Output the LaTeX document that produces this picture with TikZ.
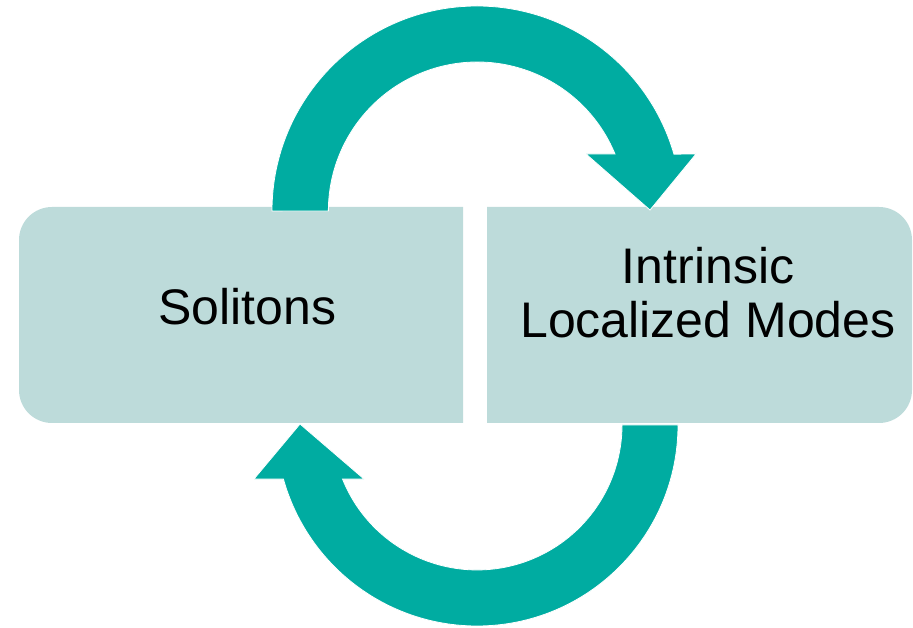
\documentclass[tikz,border=0pt]{standalone}
\usepackage{fontspec}
\setmainfont{Liberation Sans}
\begin{document}
\definecolor{boxfill}{HTML}{BDDBDA}
\definecolor{arrowteal}{HTML}{00ACA1}
\begin{tikzpicture}[x=1pt,y=1pt,
  panel/.style={fill=boxfill},
  blockarrow/.style={fill=arrowteal,draw=white,line width=0.8pt,line join=miter},
  label/.style={inner sep=0pt,font=\fontsize{50}{54}\selectfont,text=black}]
\useasboundingbox (0,0) rectangle (913,627);

% left panel: rounded on the left side only
\path[panel] (463,204) -- (52,204) arc[start angle=270,end angle=180,radius=33pt]
  -- (19,387) arc[start angle=180,end angle=90,radius=33pt] -- (463,420) -- cycle;
% right panel: rounded on the right side only
\path[panel] (487,204) -- (879,204) arc[start angle=-90,end angle=0,radius=33pt]
  -- (912,387) arc[start angle=0,end angle=90,radius=33pt] -- (487,420) -- cycle;

% upper curved arrow, from the left panel over to the right panel
\path[blockarrow] (272,416) arc[start angle=180,end angle=16.1,radius=205pt]
  -- (696,473) -- (650,417) -- (586,473) -- (615,473)
  arc[start angle=22.5,end angle=180,radius=149pt] -- cycle;

% lower curved arrow, from the right panel back to the left panel
\path[blockarrow] (678,202) arc[start angle=0,end angle=-164.4,radius=201pt]
  -- (254,148) -- (300,203) -- (364,148) -- (342.5,148)
  arc[start angle=-158.1,end angle=0,radius=145pt] -- cycle;

\node[label,anchor=base] (sol) at (247.5,302) {Solitons};
\node[label,align=center] (ilm) at (708,334) {Intrinsic\\Localized Modes};
\end{tikzpicture}
\end{document}
